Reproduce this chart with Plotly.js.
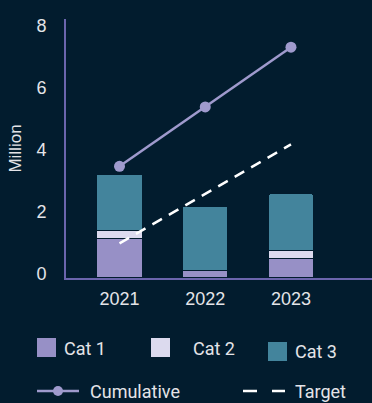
<!DOCTYPE html>
<html>
<head>
<meta charset="utf-8">
<script src="https://cdn.plot.ly/plotly-3.0.1.min.js"></script>
<style>
html,body{margin:0;padding:0;background:#021c2e;}
#chart{width:372px;height:403px;}
</style>
</head>
<body>
<div id="chart"></div>
<script>
const years = ['2021', '2022', '2023'];
const cat1 = [1.26, 0.23, 0.62];
const cat2 = [0.25, 0.0, 0.25];
const cat3 = [1.83, 2.06, 1.83];
const cumulative = [3.59, 5.51, 7.44];
const target = [1.1, 2.7, 4.3];
const yTicks = [0, 2, 4, 6, 8];

const BG = '#021c2e';
const C1 = '#9790c6';
const C2 = '#dcdaee';
const C3 = '#43849c';
const LINE = '#9f9acd';
const AXIS = '#6b65ad';
const TXT = '#e4e4e8';
const FONT = 'Liberation Sans, Arial, sans-serif';
const LFONT = 'Roboto, Liberation Sans, Arial, sans-serif';

function barTrace(name, vals, color) {
  return {
    type: 'bar', name: name, x: years, y: vals, width: 0.53,
    marker: {color: color, line: {color: BG, width: 1}},
    showlegend: false, hoverinfo: 'skip'
  };
}

const traces = [
  barTrace('Cat 1', cat1, C1),
  barTrace('Cat 2', cat2, C2),
  barTrace('Cat 3', cat3, C3),
  {type: 'scatter', mode: 'lines+markers', name: 'Cumulative', x: years, y: cumulative,
   line: {color: LINE, width: 2.5}, marker: {color: LINE, size: 11}, showlegend: false},
  {type: 'scatter', mode: 'lines', name: 'Target', x: years, y: target,
   line: {color: '#ffffff', width: 2.5, dash: '11px,8px'}, showlegend: false}
];

// custom legend (plot area: x 66..372, y 19..278)
const L = 66, W = 306, T = 19, H = 259;
const px = v => (v - L) / W;
const py = v => (T + H - v) / H;
const shapes = [];
const annotations = [];
function sq(x0, y0, s, color) {
  shapes.push({type: 'rect', xref: 'paper', yref: 'paper',
    x0: px(x0), x1: px(x0 + s), y0: py(y0 + s), y1: py(y0),
    fillcolor: color, line: {width: 0}, layer: 'above'});
}
function label(x, y, text) {
  annotations.push({xref: 'paper', yref: 'paper', x: px(x), y: py(y), text: text,
    showarrow: false, xanchor: 'left', yanchor: 'middle', borderpad: 0,
    font: {family: LFONT, size: 18, color: TXT}});
}
sq(37, 338, 19, C1); label(63, 348, 'Cat 1');
sq(151, 338, 19, C2); label(192, 348, 'Cat 2');
sq(268, 342, 19, C3); label(294, 351, 'Cat 3');
// cumulative legend
shapes.push({type: 'line', xref: 'paper', yref: 'paper', x0: px(37), x1: px(79), y0: py(391), y1: py(391),
  line: {color: LINE, width: 2.5}});
shapes.push({type: 'circle', xref: 'paper', yref: 'paper', x0: px(53), x1: px(63), y0: py(396), y1: py(386),
  fillcolor: LINE, line: {width: 0}});
label(89, 391, 'Cumulative');
shapes.push({type: 'line', xref: 'paper', yref: 'paper', x0: px(243), x1: px(285), y0: py(391), y1: py(391),
  line: {color: '#ffffff', width: 2.5, dash: '14px,15px'}});
label(294, 391, 'Target');

const layout = {
  width: 372, height: 403,
  margin: {l: 66, r: 0, t: 19, b: 125, pad: 0},
  paper_bgcolor: BG, plot_bgcolor: BG,
  barmode: 'stack', barcornerradius: 2,
  showlegend: false,
  font: {family: FONT, color: TXT, size: 18},
  xaxis: {type: 'category', range: [-0.624, 2.945], showgrid: false, zeroline: false,
    showline: true, linecolor: AXIS, linewidth: 2, ticks: '', ticklabelstandoff: 3,
    tickfont: {family: FONT, size: 18, color: TXT}, fixedrange: true},
  yaxis: {range: [-0.02, 8.35], tickvals: yTicks, ticktext: yTicks.map(String),
    showgrid: false, zeroline: false, showline: true, linecolor: AXIS, linewidth: 2,
    ticks: '', ticklabelstandoff: 14, ticklabelshift: -4,
    tickfont: {family: FONT, size: 18, color: TXT},
    title: {text: 'Million', font: {family: FONT, size: 17, color: TXT}, standoff: 10}},
  shapes: shapes,
  annotations: annotations
};

Plotly.newPlot('chart', traces, layout, {displayModeBar: false, staticPlot: true});
</script>
</body>
</html>
